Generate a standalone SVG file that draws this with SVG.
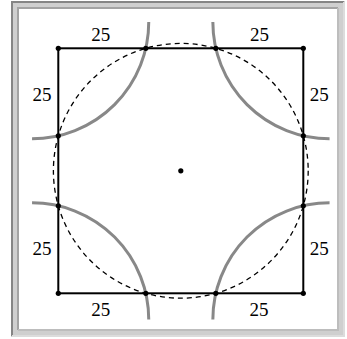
<svg xmlns="http://www.w3.org/2000/svg" width="347" height="339" viewBox="0 0 347 339">
  <style>
    .lbl { font-family: "Liberation Serif", "Times New Roman", serif; font-size: 19px; fill: #000; text-anchor: middle; }
    .sq { fill: none; stroke: #000; stroke-width: 2; }
    .arc { fill: none; stroke: #888; stroke-width: 3; }
    .dash { fill: none; stroke: #000; stroke-width: 1.3; stroke-dasharray: 5 4; }
    .dot { fill: #000; }
  </style>
  <rect x="0" y="0" width="347" height="339" fill="#fff"/>
  <g id="frame">
    <rect x="11" y="1" width="334" height="336" fill="#cfcfcf"/>
    <path d="M12 336 V2 H344" fill="none" stroke="#858585" stroke-width="2"/>
    <path d="M12 336 H344 V2" fill="none" stroke="#dcdcdc" stroke-width="2"/>
    <path d="M18 330 V8 H338" fill="none" stroke="#a3a3a3" stroke-width="2"/>
    <path d="M18 330 H338 V8" fill="none" stroke="#bdbdbd" stroke-width="2"/>
    <rect x="19" y="9" width="318" height="320" fill="#fff"/>
  </g>
  <g id="circle">
    <circle class="dash" cx="180.8" cy="170.8" r="127.4"/>
  </g>
  <g id="arcs">
    <path class="arc" d="M148.75 22.05 A116.7 116.7 0 0 1 32.05 138.75"/>
    <path class="arc" d="M212.85 22.05 A116.7 116.7 0 0 0 329.55 138.75"/>
    <path class="arc" d="M32.05 202.85 A116.7 116.7 0 0 1 148.75 319.55"/>
    <path class="arc" d="M212.85 319.55 A116.7 116.7 0 0 1 329.55 202.85"/>
  </g>
  <g id="square">
    <rect class="sq" x="58.3" y="48.3" width="245" height="245"/>
  </g>
  <g id="points">
    <circle class="dot" cx="58.3" cy="48.3" r="2.6"/>
    <circle class="dot" cx="145.8" cy="48.3" r="2.6"/>
    <circle class="dot" cx="215.8" cy="48.3" r="2.6"/>
    <circle class="dot" cx="303.3" cy="48.3" r="2.6"/>
    <circle class="dot" cx="303.3" cy="135.8" r="2.6"/>
    <circle class="dot" cx="303.3" cy="205.8" r="2.6"/>
    <circle class="dot" cx="303.3" cy="293.3" r="2.6"/>
    <circle class="dot" cx="215.8" cy="293.3" r="2.6"/>
    <circle class="dot" cx="145.8" cy="293.3" r="2.6"/>
    <circle class="dot" cx="58.3" cy="293.3" r="2.6"/>
    <circle class="dot" cx="58.3" cy="205.8" r="2.6"/>
    <circle class="dot" cx="58.3" cy="135.8" r="2.6"/>
    <circle class="dot" cx="180.8" cy="170.8" r="2.6"/>
  </g>
  <g id="labels">
    <text class="lbl" x="100.8" y="40.5">25</text>
    <text class="lbl" x="259.5" y="40.5">25</text>
    <text class="lbl" x="42" y="100.5">25</text>
    <text class="lbl" x="319.3" y="100.5">25</text>
    <text class="lbl" x="42" y="254.8">25</text>
    <text class="lbl" x="319.3" y="254.8">25</text>
    <text class="lbl" x="100.8" y="315.8">25</text>
    <text class="lbl" x="259" y="315.8">25</text>
  </g>
</svg>
